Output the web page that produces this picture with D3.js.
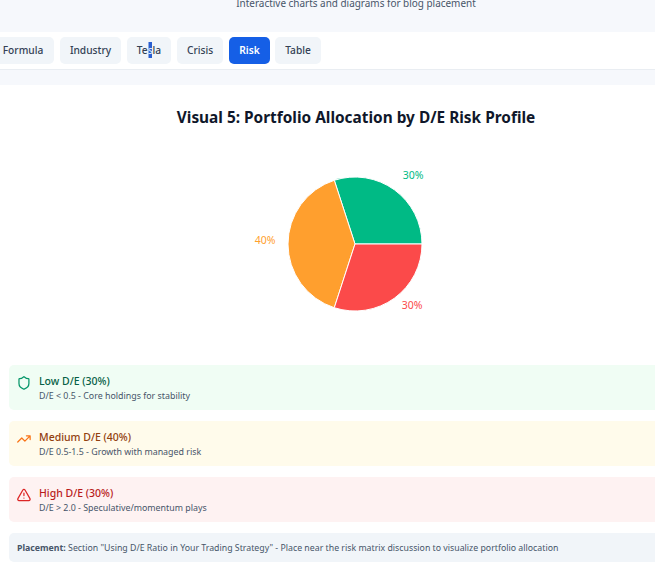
<!DOCTYPE html>
<html><head><meta charset="utf-8">
<script src="https://cdn.jsdelivr.net/npm/d3@7/dist/d3.min.js"></script>
<style>
html,body{margin:0;padding:0;background:#fff;overflow:hidden}
svg{display:block;font-family:"Noto Sans",sans-serif}
</style></head><body>
<svg id="c" width="655" height="574"></svg>
<script>
const categories=["Low D/E","Medium D/E","High D/E"];
const values=[30,40,30];
const colors=["#00ba85","#ff9f2e","#fb4a4a"];
const notes=["D/E < 0.5 - Core holdings for stability","D/E 0.5-1.5 - Growth with managed risk","D/E > 2.0 - Speculative/momentum plays"];
const cardFills=["#f0fdf4","#fffbeb","#fef2f2"];
const headColors=["#065f46","#92400e","#b91c1c"];
const iconColors=["#059669","#f97316","#dc2626"];
const tabs=["Formula","Industry","Tesla","Crisis","Risk","Table"];
const tabX=[[-8,54],[60,121],[127,171],[177,223],[229,270],[275,321]];
const labelPos=[[413,175],[265,240],[412,305]];

const svg=d3.select("#c");
svg.append("rect").attr("width",655).attr("height",85).attr("fill","#f6f8fc");
svg.append("rect").attr("y",32).attr("width",655).attr("height",37).attr("fill","#fff");
svg.append("rect").attr("y",69).attr("width",655).attr("height",1).attr("fill","#e9edf2");
svg.append("text").attr("x",356).attr("y",7).attr("text-anchor","middle").attr("font-size",9.95).attr("fill","#475569").text("Interactive charts and diagrams for blog placement");

svg.append("rect").attr("x",148.5).attr("y",42).attr("width",3.5).attr("height",16).attr("fill","#2a5fd0");
tabs.forEach((t,i)=>{
  const [a,b]=tabX[i],on=t==="Risk";
  svg.insert("rect","rect:nth-of-type(4)").attr("x",a).attr("y",37).attr("width",b-a).attr("height",27).attr("rx",5)
    .attr("fill",on?"#155fe6":"#f1f5f9");
  const tx=svg.append("text").attr("x",(a+b)/2).attr("y",54).attr("text-anchor","middle").attr("font-size",10.2)
    .attr("font-weight",on?600:500).attr("fill",on?"#fff":"#334155");
  if(t==="Tesla"){
    tx.append("tspan").text("Te");
    tx.append("tspan").attr("fill","#dbe6fb").text("s");
    tx.append("tspan").text("la");
  } else tx.text(t);
});

svg.append("text").attr("x",356).attr("y",122.5).attr("text-anchor","middle").attr("font-size",15.4).attr("font-weight",700).attr("fill","#0f172a").text("Visual 5: Portfolio Allocation by D/E Risk Profile");

const pie=d3.pie().sort(null).startAngle(Math.PI/2).endAngle(Math.PI/2-2*Math.PI);
const arc=d3.arc().innerRadius(0).outerRadius(67);
const g=svg.append("g").attr("transform","translate(355,244)");
g.selectAll("path").data(pie(values)).join("path").attr("d",arc).attr("fill",(d,i)=>colors[i]).attr("stroke","#fff").attr("stroke-width",1);
values.forEach((v,i)=>{
  svg.append("text").attr("x",labelPos[i][0]).attr("y",labelPos[i][1]+4).attr("text-anchor","middle").attr("font-size",10.5).attr("fill",colors[i]).text(v+"%");
});

const icons=[
 "M20 13c0 5-3.5 7.5-7.66 8.95a1 1 0 0 1-.67-.01C7.5 20.5 4 18 4 13V6a1 1 0 0 1 1-1c2 0 4.5-1.2 6.24-2.72a1.17 1.17 0 0 1 1.52 0C14.51 3.81 17 5 19 5a1 1 0 0 1 1 1z",
 "M22 7l-8.5 8.5-5-5L2 17 M16 7h6v6",
 "M21.73 18l-8-14a2 2 0 0 0-3.48 0l-8 14A2 2 0 0 0 4 21h16a2 2 0 0 0 1.73-3 M12 9v4 M12 17h.01"
];
const cardY=[365,421,477];
categories.forEach((c,i)=>{
  const y=cardY[i];
  svg.append("rect").attr("x",9).attr("y",y).attr("width",660).attr("height",45).attr("rx",5).attr("fill",cardFills[i]);
  svg.append("path").attr("d",icons[i]).attr("transform",`translate(16.5,${y+10.5}) scale(.62)`).attr("fill","none").attr("stroke",iconColors[i]).attr("stroke-width",2).attr("stroke-linecap","round").attr("stroke-linejoin","round");
  svg.append("text").attr("x",39).attr("y",y+20).attr("font-size",10.5).attr("font-weight",500).attr("fill",headColors[i]).text(`${c} (${values[i]}%)`);
  svg.append("text").attr("x",39).attr("y",y+34).attr("font-size",8.85).attr("fill","#475569").text(notes[i]);
});
svg.append("rect").attr("x",9).attr("y",533).attr("width",660).attr("height",29).attr("rx",5).attr("fill","#f1f5f9");
const p=svg.append("text").attr("x",17).attr("y",551).attr("font-size",8.77).attr("fill","#475569");
p.append("tspan").attr("font-weight",700).text("Placement:");
p.append("tspan").text(" Section \"Using D/E Ratio in Your Trading Strategy\" - Place near the risk matrix discussion to visualize portfolio allocation");
</script></body></html>
